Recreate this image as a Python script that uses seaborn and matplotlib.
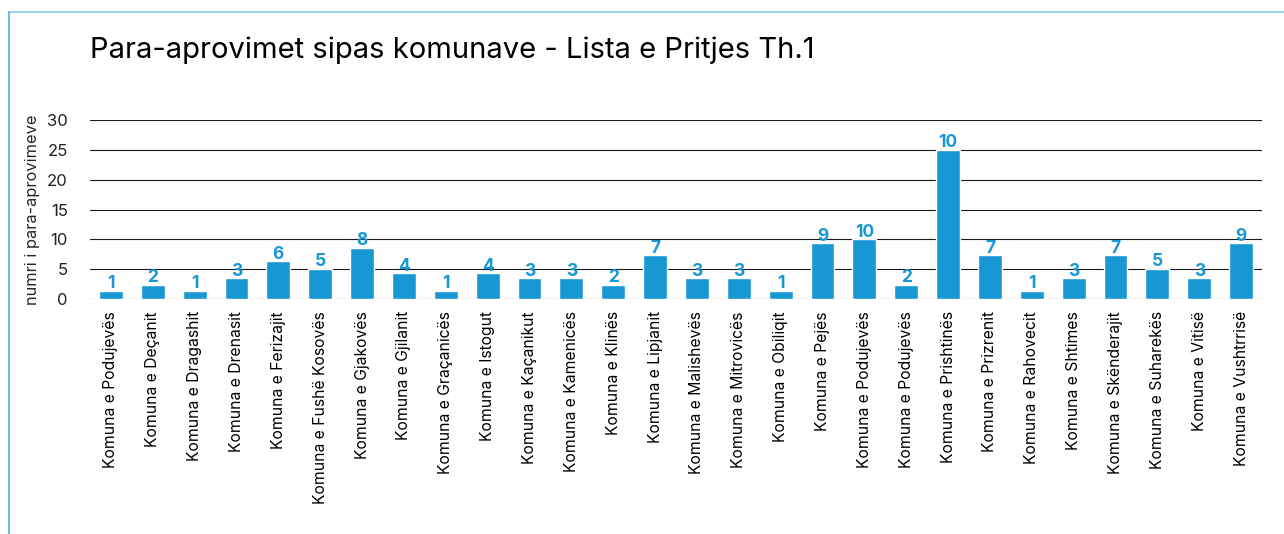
import matplotlib
matplotlib.use("Agg")
import matplotlib.pyplot as plt
import seaborn as sns
import pandas as pd
from matplotlib.lines import Line2D

komunat = ["Komuna e Podujevës", "Komuna e Deçanit", "Komuna e Dragashit",
           "Komuna e Drenasit", "Komuna e Ferizajit", "Komuna e Fushë Kosovës",
           "Komuna e Gjakovës", "Komuna e Gjilanit", "Komuna e Graçanicës",
           "Komuna e Istogut", "Komuna e Kaçanikut", "Komuna e Kamenicës",
           "Komuna e Klinës", "Komuna e Lipjanit", "Komuna e Malishevës",
           "Komuna e Mitrovicës", "Komuna e Obiliqit", "Komuna e Pejës",
           "Komuna e Podujevës ", "Komuna e Podujevës  ", "Komuna e Prishtinës",
           "Komuna e Prizrenit", "Komuna e Rahovecit", "Komuna e Shtimes",
           "Komuna e Skënderajit", "Komuna e Suharekës", "Komuna e Vitisë",
           "Komuna e Vushtrrisë"]
# bar heights as drawn
lartesia = [1.3, 2.3, 1.3, 3.4, 6.3, 5.0, 8.6, 4.3, 1.3, 4.3, 3.4, 3.4,
            2.3, 7.3, 3.4, 3.4, 1.3, 9.3, 10.0, 2.3, 25.0, 7.3, 1.3, 3.4,
            7.3, 5.0, 3.4, 9.3]
# labels shown above bars
etiketat = [1, 2, 1, 3, 6, 5, 8, 4, 1, 4, 3, 3, 2, 7, 3, 3, 1, 9, 10, 2,
            10, 7, 1, 3, 7, 5, 3, 9]
yticks = [0, 5, 10, 15, 20, 25, 30]

blu = "#1897d5"

sns.set_style("white")
plt.rcParams["font.family"] = ["Inter", "DejaVu Sans"]

df = pd.DataFrame({"komuna": komunat, "vlera": lartesia})

fig = plt.figure(figsize=(12.84, 5.34), dpi=100)
ax = fig.add_axes([0.0701, 0.4406, 0.9128, 0.3341])

sns.barplot(data=df, x="komuna", y="vlera", color=blu, saturation=1,
            width=0.57, ax=ax, zorder=3)

ax.bar_label(ax.containers[0], labels=[str(v) for v in etiketat],
             padding=-1, color=blu, fontsize=12.5, fontweight="bold")

ax.set_ylim(0, 30)
ax.set_xlim(-0.5, len(komunat) - 0.5)
ax.set_yticks(yticks)
for y in yticks:
    ax.axhline(y, color="#1a1a1a", lw=0.8, zorder=1)
for s in ax.spines.values():
    s.set_visible(False)

ax.set_xticks(range(len(komunat)))
ax.set_xticklabels([k.strip() for k in komunat], rotation=90, fontsize=11.3)
ax.tick_params(axis="x", length=0, pad=9, colors="black")
ax.tick_params(axis="y", length=0, pad=16, labelsize=12, colors="#222222")
ax.set_xlabel("")
ax.set_ylabel("numri i para-aprovimeve", fontsize=11.8, labelpad=5)

fig.text(0.0701, 1 - 50 / 534, "Para-aprovimet sipas komunave - Lista e Pritjes Th.1",
         fontsize=21, va="center", ha="left", color="black")

# light blue frame at the top and left
fig.add_artist(Line2D([9 / 1284, 1], [1 - 12 / 534, 1 - 12 / 534],
                      transform=fig.transFigure, color="#9fd6ee", lw=1.5))
fig.add_artist(Line2D([9 / 1284, 9 / 1284], [0, 1 - 12 / 534],
                      transform=fig.transFigure, color="#5aaee0", lw=1.2))

fig.savefig("out.png", dpi=100)
